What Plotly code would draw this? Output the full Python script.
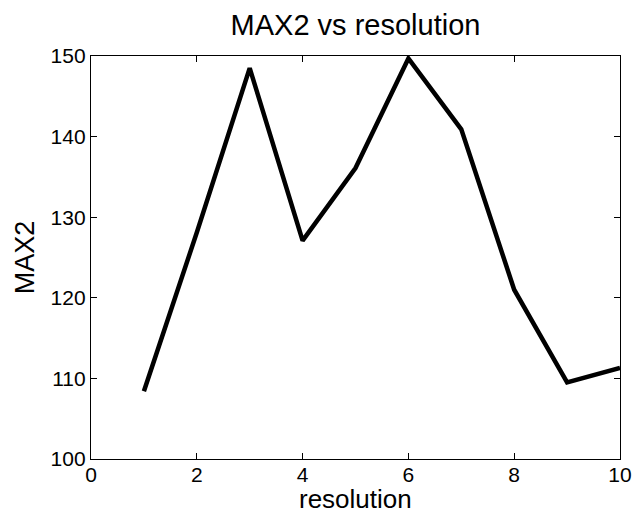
import plotly.graph_objects as go

resolution = [1, 2, 3, 4, 5, 6, 7, 8, 9, 10]
max2 = [108.4, 128.1, 148.5, 127.1, 136.1, 149.7, 140.9, 121.0, 109.5, 111.3]

x_ticks = [0, 2, 4, 6, 8, 10]
y_ticks = [100, 110, 120, 130, 140, 150]

font_family = "Liberation Sans, Arial, Helvetica, sans-serif"

fig = go.Figure()
fig.add_trace(go.Scatter(x=resolution, y=max2, mode="lines",
                         line=dict(color="black", width=4.5), showlegend=False))

axis_common = dict(showgrid=False, zeroline=False, showline=True, linecolor="black",
                   linewidth=1.3, mirror="ticks", ticks="inside", ticklen=6,
                   tickwidth=1, tickcolor="black", automargin=False,
                   tickfont=dict(family=font_family, size=21, color="black"))

W, H = 635, 516
ml, mr, mt, mb = 91, 15, 56, 57
plot_h = H - mt - mb

fig.update_layout(
    width=W, height=H,
    margin=dict(l=ml, r=mr, t=mt, b=mb),
    paper_bgcolor="white", plot_bgcolor="white",
    title=dict(text="MAX2 vs resolution", xref="paper", x=0.5, xanchor="center",
               y=0.951, yanchor="middle",
               font=dict(family=font_family, size=29, color="black")),
    xaxis=dict(range=[0, 10], tickvals=x_ticks, ticklabelstandoff=-3,
               **axis_common),
    yaxis=dict(range=[100, 150], tickvals=y_ticks,
               title=dict(text="MAX2", standoff=8,
                          font=dict(family=font_family, size=27, color="black")),
               **axis_common),
    annotations=[dict(text="resolution", xref="paper", yref="paper",
                      x=0.5, xanchor="center", y=-(H - 1 - (H - mb)) / plot_h,
                      yanchor="bottom", showarrow=False, borderpad=0,
                      font=dict(family=font_family, size=26, color="black"))],
)

fig.write_html("out.html")
